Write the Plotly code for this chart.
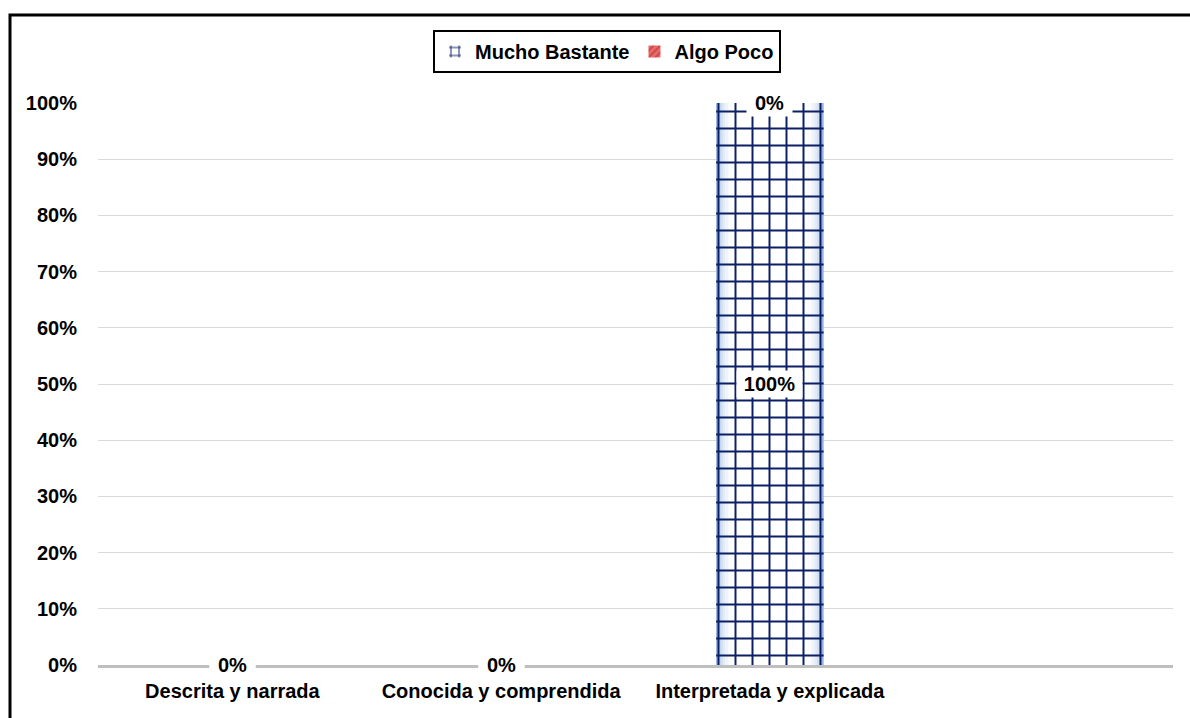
import plotly.graph_objects as go

# Data
categories = ["Descrita y narrada", "Conocida y comprendida", "Interpretada y explicada", " "]
mucho_bastante = [0.0, 0.0, 1.0, None]
algo_poco = [0.0, 0.0, 0.0, None]
y_ticks = [0, 0.1, 0.2, 0.3, 0.4, 0.5, 0.6, 0.7, 0.8, 0.9, 1.0]

FONT = "Liberation Sans, Arial, sans-serif"
FS = 20
NAVY = "#0b1f66"
BAR_W = 0.40

W, H = 1190, 718
ML, MR, MT, MB = 98, 17, 103, 53
PW, PH = W - ML - MR, H - MT - MB

fig = go.Figure()

# soft blue edge shading under the grid pattern (horizontal gradient)
shade = [(0.40, "#8eaddb"), (0.39, "#a9c1e3"), (0.378, "#c0d2ea"), (0.365, "#d3e0f0"),
         (0.35, "#e3ebf6"), (0.333, "#eff4fa"), (0.31, "#f9fbfd"), (0.28, "#ffffff")]
for w, c in shade:
    fig.add_trace(go.Bar(x=categories, y=mucho_bastante, width=w,
                         marker=dict(color=c, line=dict(width=0)),
                         showlegend=False, hoverinfo="skip"))

fig.add_trace(go.Bar(
    name="Mucho Bastante", x=categories, y=mucho_bastante, width=BAR_W,
    marker=dict(color="#7f9fcf",
                line=dict(width=0),
                pattern=dict(shape="+", fgcolor=NAVY, bgcolor="rgba(0,0,0,0)",
                             size=17, solidity=0.22, fillmode="replace")),
))
fig.add_trace(go.Bar(
    name="Algo Poco", x=categories, y=algo_poco,
    base=[m if m is not None else 0 for m in mucho_bastante],
    width=BAR_W,
    marker=dict(color="#e46c6c", line=dict(width=0),
                pattern=dict(shape="/", fgcolor="#c00000", size=6, solidity=0.3)),
))

# data labels with white boxes
def add_label(x, y, v):
    txt = f"{v:.0%}"
    fig.add_annotation(x=x, y=y, text=f"<b>{txt}</b>", showarrow=False,
                       bgcolor="white", width=10 * len(txt) + 25, height=26,
                       borderpad=0,
                       font=dict(family=FONT, size=FS, color="#000000"))

for c, m, a in zip(categories, mucho_bastante, algo_poco):
    if m is None:
        continue
    add_label(c, m / 2, m)
    add_label(c, m + a / 2, a)

# outer frame
fig.add_shape(type="rect", xref="paper", yref="paper",
              x0=(10 - ML) / PW, x1=1.5, y0=-1.0, y1=(H - MB - 15) / PH,
              line=dict(color="black", width=3), fillcolor="rgba(0,0,0,0)", layer="above")

tick_font = dict(family=FONT, size=FS, color="black", weight="bold")

fig.update_layout(
    width=W, height=H,
    margin=dict(l=ML, r=MR, t=MT, b=MB, autoexpand=False),
    paper_bgcolor="white", plot_bgcolor="white",
    barmode="overlay",
    font=dict(family=FONT, size=FS, color="black"),
    legend=dict(orientation="h", x=(607 - ML) / PW, xanchor="center",
                y=(H - MB - 30) / PH, yanchor="top",
                bordercolor="black", borderwidth=2, bgcolor="white",
                font=tick_font, itemwidth=30),
    xaxis=dict(type="category", categoryorder="array", categoryarray=categories,
               showline=True, linecolor="#bfbfbf", linewidth=3,
               showgrid=False, ticks="", ticklabelstandoff=6, tickangle=0,
               automargin=False, tickfont=tick_font),
    yaxis=dict(range=[0, 1], tickvals=y_ticks, tickformat=".0%",
               showgrid=True, gridcolor="#d9d9d9", gridwidth=1,
               zeroline=False, showline=False, ticks="", ticklabelstandoff=20,
               automargin=False, tickfont=tick_font),
)

fig.write_html("out.html")
